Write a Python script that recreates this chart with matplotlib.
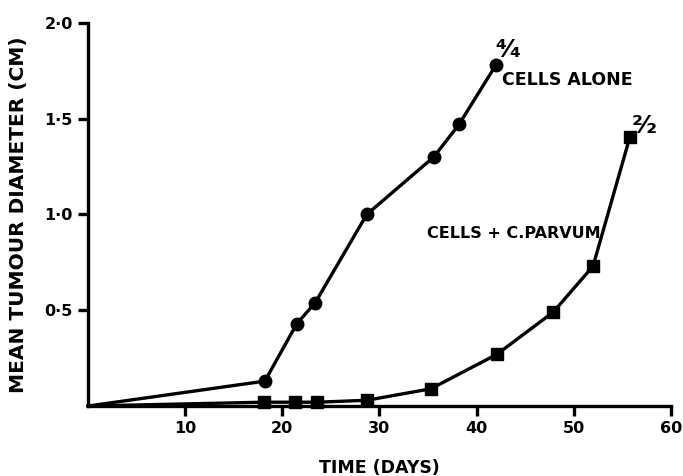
import matplotlib
matplotlib.use('Agg')
import matplotlib.pyplot as plt

# days / mean diameter (cm)
t_alone = [0, 18.2, 21.5, 23.4, 28.7, 35.6, 38.2, 42.0]
d_alone = [0, 0.13, 0.43, 0.54, 1.00, 1.30, 1.47, 1.78]

t_parvum = [0, 18.1, 21.3, 23.6, 28.7, 35.3, 42.1, 47.9, 52.0, 55.8]
d_parvum = [0, 0.02, 0.02, 0.02, 0.03, 0.09, 0.27, 0.49, 0.73, 1.405]

xticks = [10, 20, 30, 40, 50, 60]
yticks = [0.5, 1.0, 1.5, 2.0]
ylabels = ['0·5', '1·0', '1·5', '2·0']

plt.rcParams['font.family'] = ['DejaVu Sans']
plt.rcParams['font.weight'] = 'bold'

fig = plt.figure(figsize=(6.83, 4.76), dpi=100)
ax = fig.add_axes([0.129, 0.147, 0.853, 0.805])

ax.plot(t_alone, d_alone, '-', color='black', lw=2.4, marker='o', ms=9,
        markevery=list(range(1, len(t_alone))), clip_on=False)
ax.plot(t_parvum, d_parvum, '-', color='black', lw=2.4, marker='s', ms=9,
        markevery=list(range(1, len(t_parvum))), clip_on=False)

ax.set_xlim(0, 60)
ax.set_ylim(0, 2.0)
ax.spines['top'].set_visible(False)
ax.spines['right'].set_visible(False)
ax.spines['left'].set_linewidth(2.4)
ax.spines['bottom'].set_linewidth(2.4)

ax.set_xticks(xticks)
ax.set_xticklabels([str(v) for v in xticks], fontsize=11.5, fontweight='bold')
ax.set_yticks(yticks)
ax.set_yticklabels(ylabels, fontsize=11.5, fontweight='bold')
ax.tick_params(axis='both', width=2.4, length=7, direction='out', pad=4)

ax.set_xlabel('TIME (DAYS)', fontsize=12.5, fontweight='bold', labelpad=16)
ax.set_ylabel('MEAN TUMOUR DIAMETER (CM)', fontsize=14.5, fontweight='bold',
              labelpad=12)

ax.text(42.6, 1.70, 'CELLS ALONE', fontsize=12.5, fontweight='bold',
        va='center', ha='left')
ax.text(34.9, 0.90, 'CELLS + C.PARVUM', fontsize=11.5, fontweight='bold',
        va='center', ha='left')
ax.text(41.9, 1.86, '⁴⁄₄', fontsize=18, fontweight='bold', va='center', ha='left')
ax.text(56.0, 1.46, '²⁄₂', fontsize=18, fontweight='bold', va='center', ha='left')

plt.savefig('out.png', dpi=100)
